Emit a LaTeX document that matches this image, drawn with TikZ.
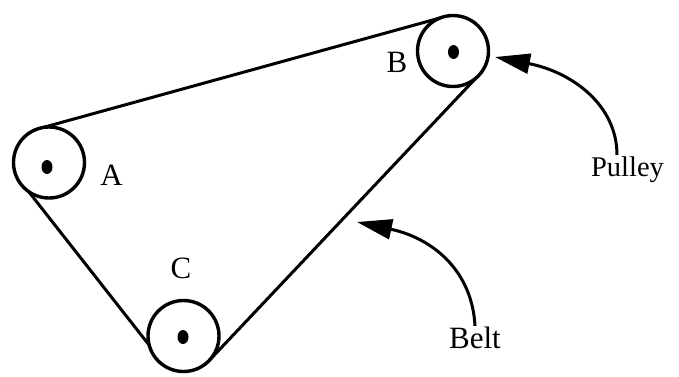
\documentclass[tikz,border=0pt]{standalone}
\usepackage{fontspec}
\setmainfont{Liberation Serif}
\usetikzlibrary{arrows.meta,shapes.geometric}
\tikzset{
  pulley/.style={circle,draw,line width=3.4pt,minimum size=71pt,inner sep=0pt,outer sep=0pt},
  hub/.style={ellipse,fill=black,minimum width=11pt,minimum height=14pt,inner sep=0pt},
  belt/.style={line width=3pt},
  pointer/.style={line width=3pt,-{Triangle[length=35pt,width=20pt]}},
  lab/.style={inner sep=0pt,font=\fontsize{31}{34}\selectfont},
  labp/.style={inner sep=0pt,font=\fontsize{28.5}{32}\selectfont}
}
\begin{document}
\begin{tikzpicture}[x=1pt,y=-1pt]
\useasboundingbox (0,0) rectangle (679,376);
\node[pulley] (A) at (49,162.5) {};
\node[pulley] (B) at (453,51) {};
\node[pulley] (C) at (183.5,336) {};
\node[hub] (ha) at (47,167) {};
\node[hub] (hb) at (453.5,52) {};
\node[hub] (hc) at (183,337) {};
\node[lab] (la) at (111.5,175) {A};
\node[lab] (lb) at (397,62) {B};
\node[lab] (lc) at (181,268) {C};
\node[labp] (pu) at (627.5,170) {Pulley};
\node[lab] (be) at (475,338) {Belt};
\coordinate (tp) at (495,57);
\coordinate (tb) at (357,222);
\draw[belt] (A.100) -- (B.112);
\draw[belt] (A.235) -- (C.195);
\draw[belt] (B.-50) -- (C.-42);
\draw[pointer] (617,155) .. controls (617,105) and (572,72) .. (tp);
\draw[pointer] (be.north) ++(0,-1) .. controls (472,270) and (432,238) .. (tb);
\end{tikzpicture}
\end{document}
